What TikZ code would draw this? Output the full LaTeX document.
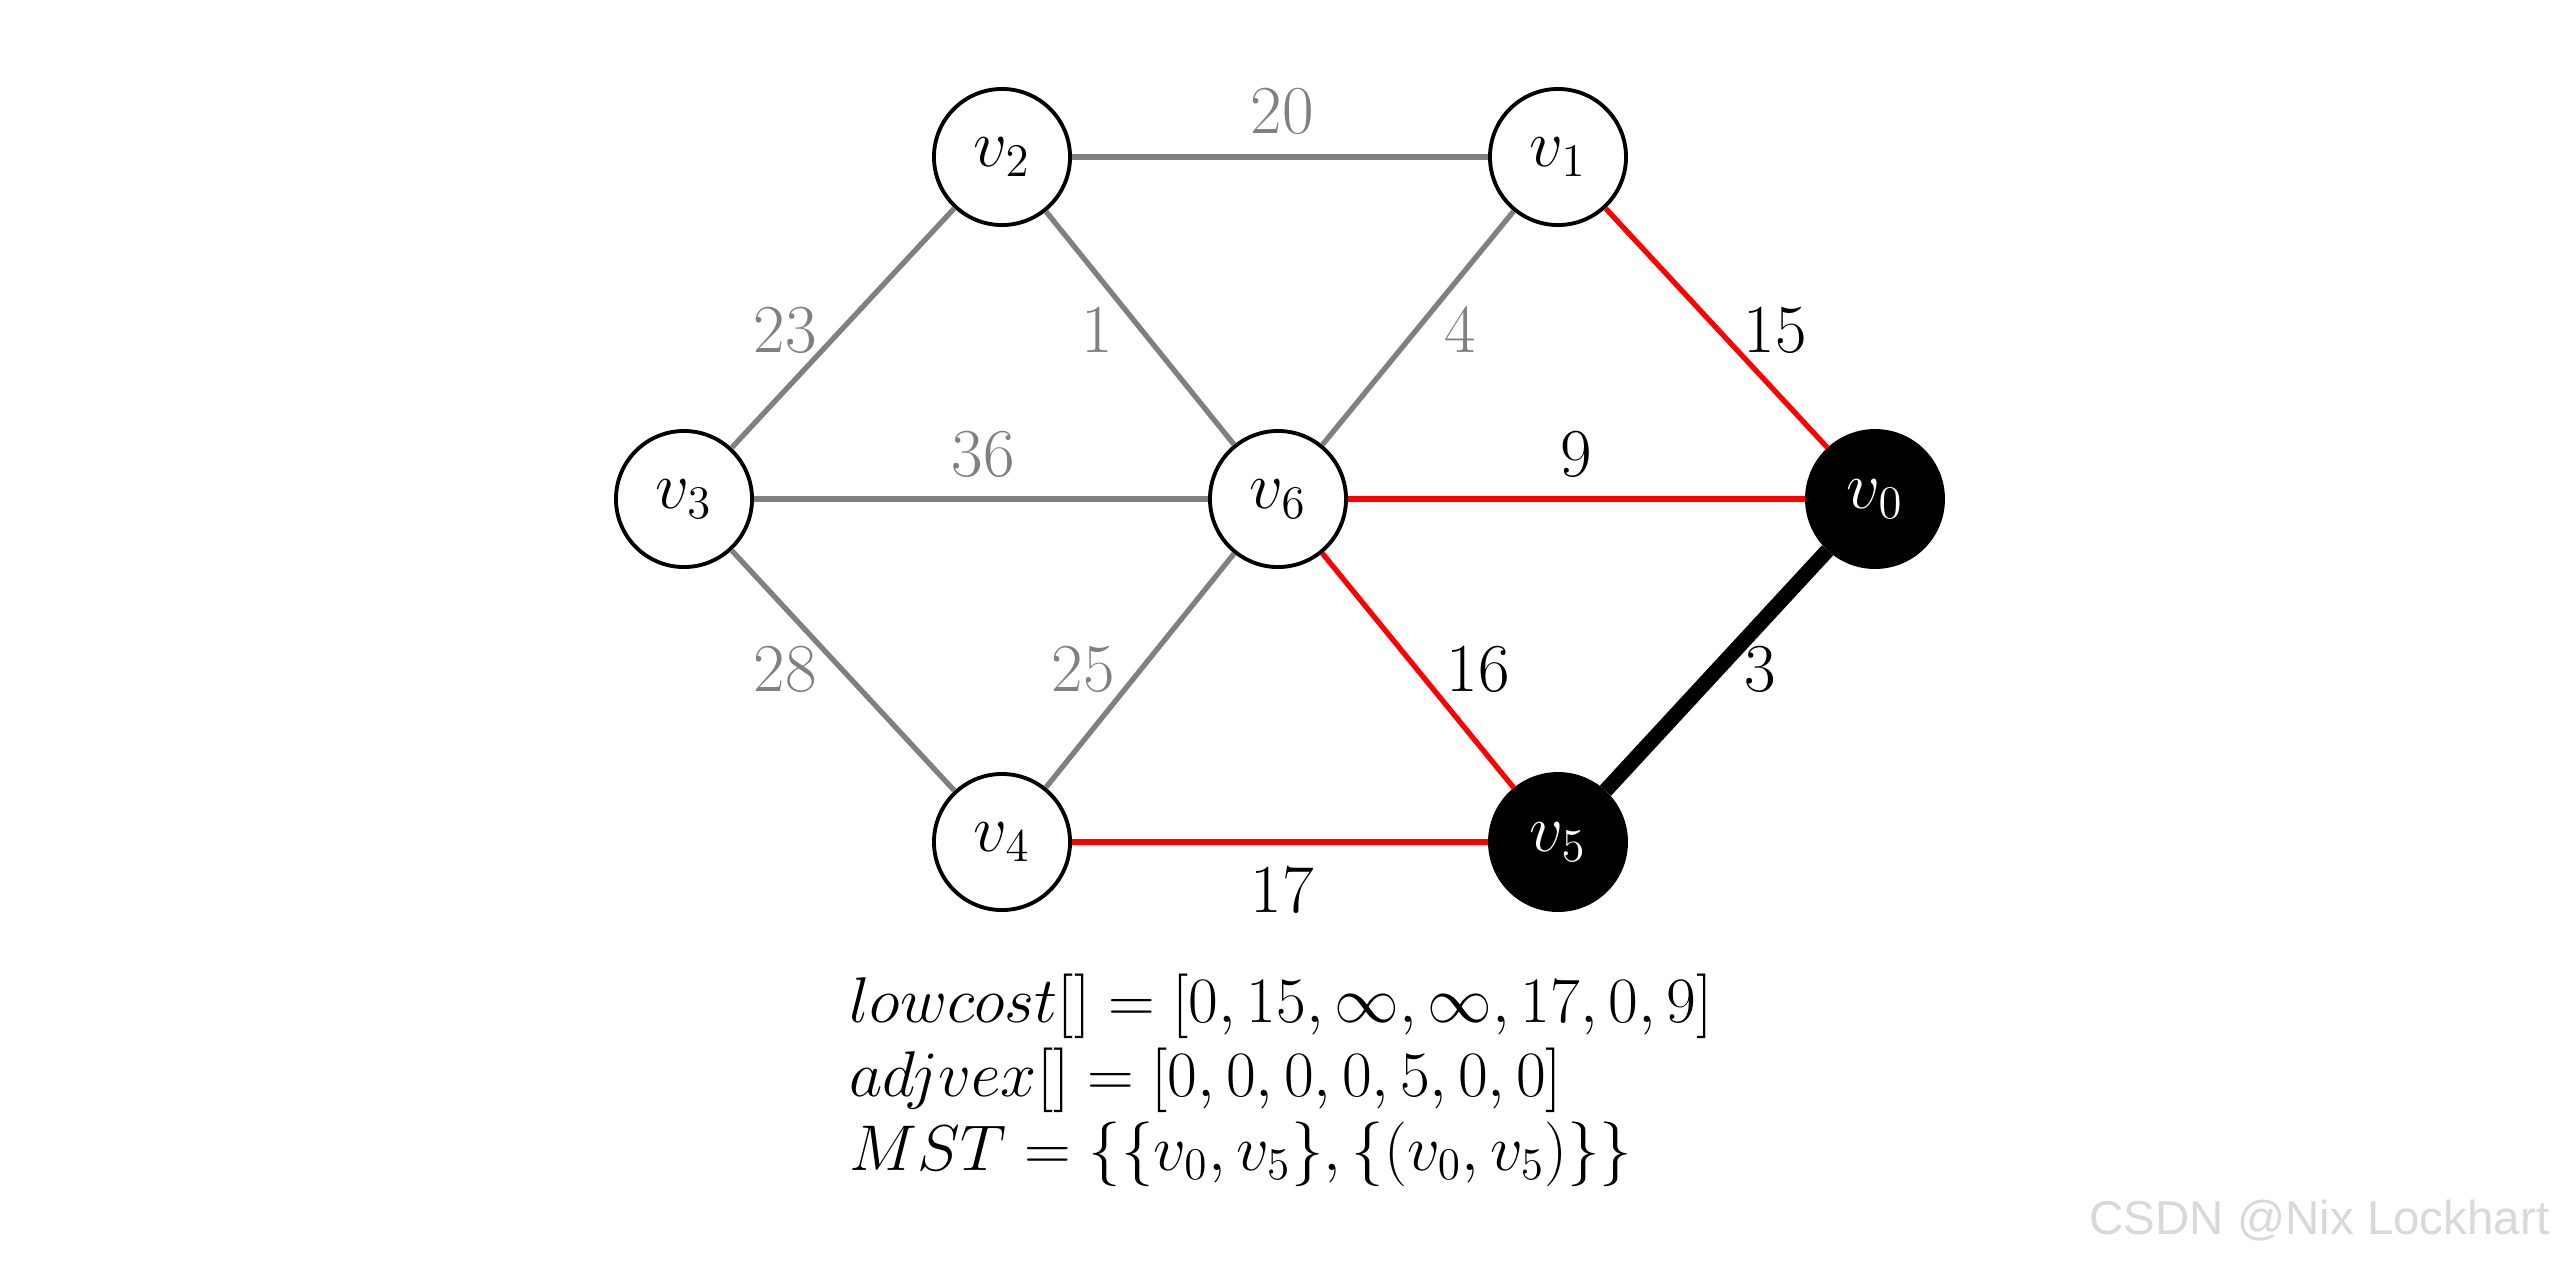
\RequirePackage{fix-cm}
\documentclass[tikz,border=0pt]{standalone}
\usepackage{fontspec}
\newfontfamily\wmfont{Liberation Sans}
\begin{document}
\begin{tikzpicture}[x=0.01cm,y=-0.01cm,
  vert/.style={circle,draw=black,line width=1.1pt,minimum size=1.36cm,inner sep=0pt,fill=white,font=\fontsize{19}{23}\selectfont},
  done/.style={vert,fill=black,text=white},
  gedge/.style={draw=gray,line width=1.5pt},
  redge/.style={draw=red,line width=1.5pt},
  bedge/.style={draw=black,line width=4.3pt},
  glabel/.style={text=gray,font=\fontsize{19.5}{23}\selectfont,inner sep=0pt},
  blabel/.style={text=black,font=\fontsize{19.5}{23}\selectfont,inner sep=0pt},
  formula/.style={anchor=base west,inner sep=0pt,font=\fontsize{18.4}{22}\selectfont}
]
\path[use as bounding box] (0,0) rectangle (2560,1266);
\fill[white] (0,0) rectangle (2560,1266);

\node[vert] (v2) at (1002,157) {$v_2$};
\node[vert] (v1) at (1558,157) {$v_1$};
\node[vert] (v3) at (684,499) {$v_3$};
\node[vert] (v6) at (1278,499) {$v_6$};
\node[done] (v0) at (1875,499) {$v_0$};
\node[vert] (v4) at (1002,842) {$v_4$};
\node[done] (v5) at (1558,842) {$v_5$};

\draw[gedge] (v2) -- (v1);
\draw[gedge] (v2) -- (v3);
\draw[gedge] (v2) -- (v6);
\draw[gedge] (v1) -- (v6);
\draw[gedge] (v3) -- (v6);
\draw[gedge] (v3) -- (v4);
\draw[gedge] (v4) -- (v6);
\draw[redge] (v1) -- (v0);
\draw[redge] (v6) -- (v0);
\draw[redge] (v6) -- (v5);
\draw[redge] (v4) -- (v5);
\draw[bedge] (v5) -- (v0);

\node[glabel] (l20) at (1282,111) {20};
\node[glabel] (l23) at (785,330) {23};
\node[glabel] (l1) at (1097,330) {1};
\node[glabel] (l4) at (1460,330) {4};
\node[blabel] (l15) at (1775,330) {15};
\node[glabel] (l36) at (983,454) {36};
\node[blabel] (l9) at (1576,454) {9};
\node[glabel] (l28) at (785,669) {28};
\node[glabel] (l25) at (1083,669) {25};
\node[blabel] (l16) at (1478,669) {16};
\node[blabel] (l3) at (1760,669) {3};
\node[blabel] (l17) at (1282,890) {17};

\node[formula] (f1) at (849,1022) {$lowcost[]=[0,15,\infty,\infty,17,0,9]$};
\node[formula] (f2) at (849,1096) {$adjvex[]=[0,0,0,0,5,0,0]$};
\node[formula] (f3) at (849,1170) {$MST=\left\{{\left\{v_0,v_5\right\}},{\left\{\left(v_0,v_5\right)\right\}}\right\}$};

\node[anchor=base east,inner sep=0pt,text=gray!30,font=\wmfont\fontsize{13.5}{16}\selectfont] (wm) at (2550,1234) {CSDN @Nix Lockhart};
\end{tikzpicture}
\end{document}
